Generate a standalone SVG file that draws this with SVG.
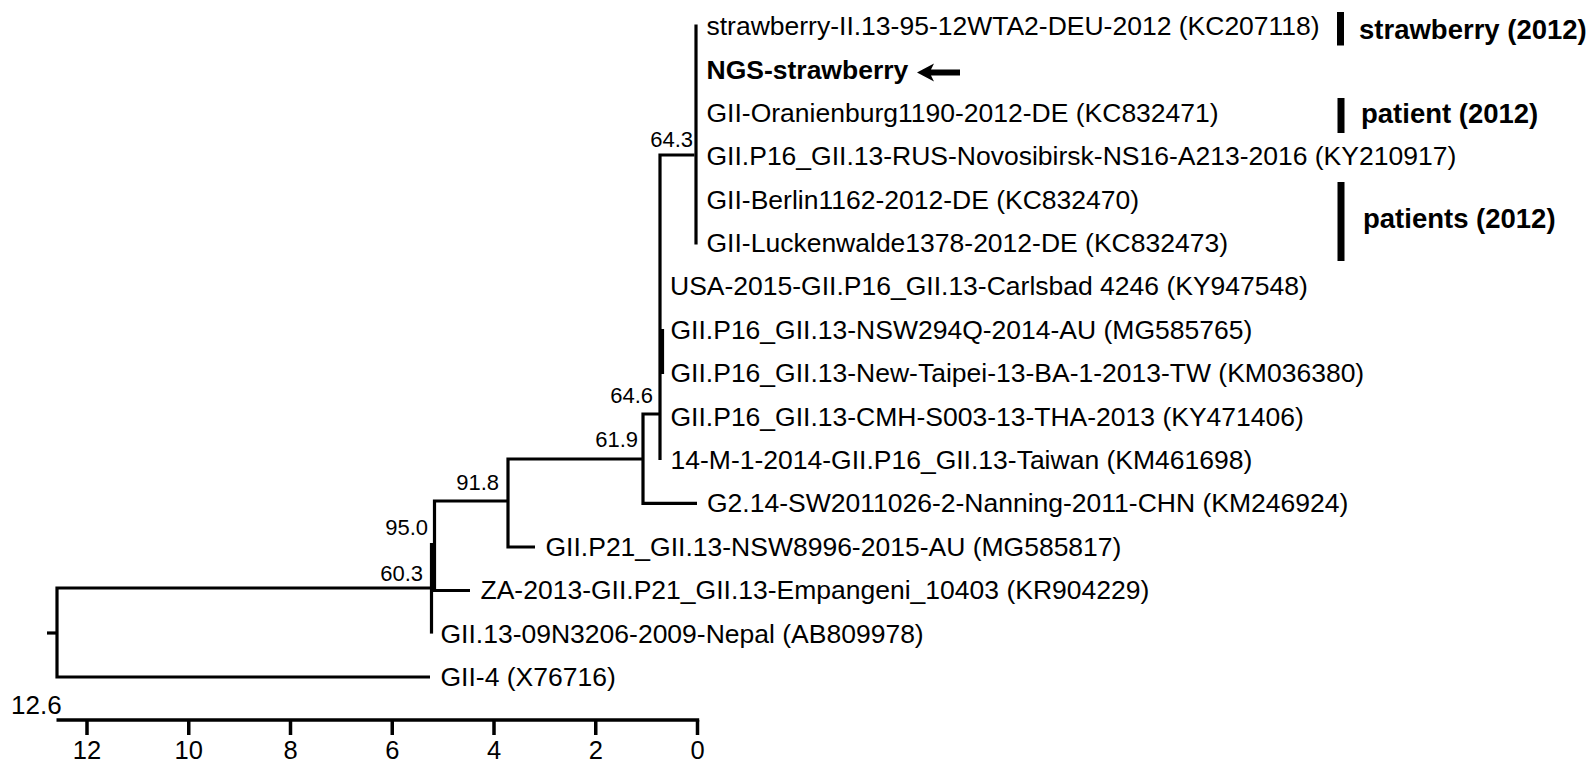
<svg xmlns="http://www.w3.org/2000/svg" width="1596" height="765" viewBox="0 0 1596 765">
<style>
text{font-family:"Liberation Sans",Arial,Helvetica,sans-serif;fill:#000}
.lbl{font-size:26.5px}
.b{font-weight:bold}
.grp{font-size:27.5px;font-weight:bold}
.bs{font-size:22px;text-anchor:end}
.tk{font-size:25.5px;text-anchor:middle}
.br{stroke:#000;stroke-width:3.2;fill:none;stroke-linecap:butt;stroke-linejoin:miter}
.ax{stroke:#000;stroke-width:3.5;fill:none}
.bar{fill:#000}
</style>
<rect width="1596" height="765" fill="#fff"/>

<g id="connectors">
<path class="br" d="M696,24.5 V244.5"/>
<path class="br" d="M694.5,155 H660 V460"/>
<path class="br" d="M662.5,329 V374"/>
<path class="br" d="M660,414 H643 V503.4 H697"/>
<path class="br" d="M643,459 H508 V547 H535"/>
<path class="br" d="M508,501 H434.5 V590.5"/>
<path class="br" d="M431.5,543 V633.6"/>
<path class="br" d="M431,590.5 H470"/>
<path class="br" d="M433,588 H57 V677 H430"/>
<path class="br" d="M47,633 H57"/>
</g>

<g id="axis">
<path class="ax" d="M56.5,720 H699.2"/>
<path class="ax" d="M697.5,720 V735 M595.75,720 V735 M494,720 V735 M392.25,720 V735 M290.5,720 V735 M188.75,720 V735 M87,720 V735"/>
<text class="tk" x="697.5" y="759">0</text>
<text class="tk" x="595.75" y="759">2</text>
<text class="tk" x="494" y="759">4</text>
<text class="tk" x="392.25" y="759">6</text>
<text class="tk" x="290.5" y="759">8</text>
<text class="tk" x="188.75" y="759">10</text>
<text class="tk" x="87" y="759">12</text>
<text x="11" y="714" style="font-size:26px">12.6</text>
</g>

<g id="internal-nodes">
<g id="n643"><text class="bs" x="693" y="147">64.3</text></g>
<g id="n646"><text class="bs" x="653" y="403">64.6</text></g>
<g id="n619"><text class="bs" x="638" y="447">61.9</text></g>
<g id="n918"><text class="bs" x="499" y="490">91.8</text></g>
<g id="n950"><text class="bs" x="428" y="535">95.0</text></g>
<g id="n603"><text class="bs" x="423" y="581">60.3</text></g>
</g>

<g id="leaf-KC207118"><text class="lbl" x="706.5" y="35">strawberry-II.13-95-12WTA2-DEU-2012 (KC207118)</text></g>
<g id="leaf-NGS"><text class="lbl b" x="706.5" y="79">NGS-strawberry</text>
<path d="M917,72.5 L934,63.5 L931,69.5 L960,69.5 L960,75.5 L931,75.5 L934,81.5 Z" fill="#000"/></g>
<g id="leaf-KC832471"><text class="lbl" x="706.5" y="121.8">GII-Oranienburg1190-2012-DE (KC832471)</text></g>
<g id="leaf-KY210917"><text class="lbl" x="706.5" y="165.2">GII.P16_GII.13-RUS-Novosibirsk-NS16-A213-2016 (KY210917)</text></g>
<g id="leaf-KC832470"><text class="lbl" x="706.5" y="208.6">GII-Berlin1162-2012-DE (KC832470)</text></g>
<g id="leaf-KC832473"><text class="lbl" x="706.5" y="252">GII-Luckenwalde1378-2012-DE (KC832473)</text></g>
<g id="leaf-KY947548"><text class="lbl" x="670" y="295.4">USA-2015-GII.P16_GII.13-Carlsbad 4246 (KY947548)</text></g>
<g id="leaf-MG585765"><text class="lbl" x="670.5" y="338.8">GII.P16_GII.13-NSW294Q-2014-AU (MG585765)</text></g>
<g id="leaf-KM036380"><text class="lbl" x="670.5" y="382.2">GII.P16_GII.13-New-Taipei-13-BA-1-2013-TW (KM036380)</text></g>
<g id="leaf-KY471406"><text class="lbl" x="670.5" y="425.6">GII.P16_GII.13-CMH-S003-13-THA-2013 (KY471406)</text></g>
<g id="leaf-KM461698"><text class="lbl" x="670.5" y="469">14-M-1-2014-GII.P16_GII.13-Taiwan (KM461698)</text></g>
<g id="leaf-KM246924"><text class="lbl" x="707" y="512.4">G2.14-SW2011026-2-Nanning-2011-CHN (KM246924)</text></g>
<g id="leaf-MG585817"><text class="lbl" x="545.5" y="555.8">GII.P21_GII.13-NSW8996-2015-AU (MG585817)</text></g>
<g id="leaf-KR904229"><text class="lbl" x="480.5" y="599.2">ZA-2013-GII.P21_GII.13-Empangeni_10403 (KR904229)</text></g>
<g id="leaf-AB809978"><text class="lbl" x="440.5" y="642.6">GII.13-09N3206-2009-Nepal (AB809978)</text></g>
<g id="leaf-X76716"><text class="lbl" x="440.5" y="686">GII-4 (X76716)</text></g>

<g id="group-strawberry"><rect class="bar" x="1337" y="12" width="7" height="33.5"/><text class="grp" x="1359" y="39">strawberry (2012)</text></g>
<g id="group-patient"><rect class="bar" x="1337.5" y="98" width="7" height="35"/><text class="grp" x="1361" y="123">patient (2012)</text></g>
<g id="group-patients"><rect class="bar" x="1337.5" y="182" width="7" height="79"/><text class="grp" x="1363" y="228">patients (2012)</text></g>
</svg>
